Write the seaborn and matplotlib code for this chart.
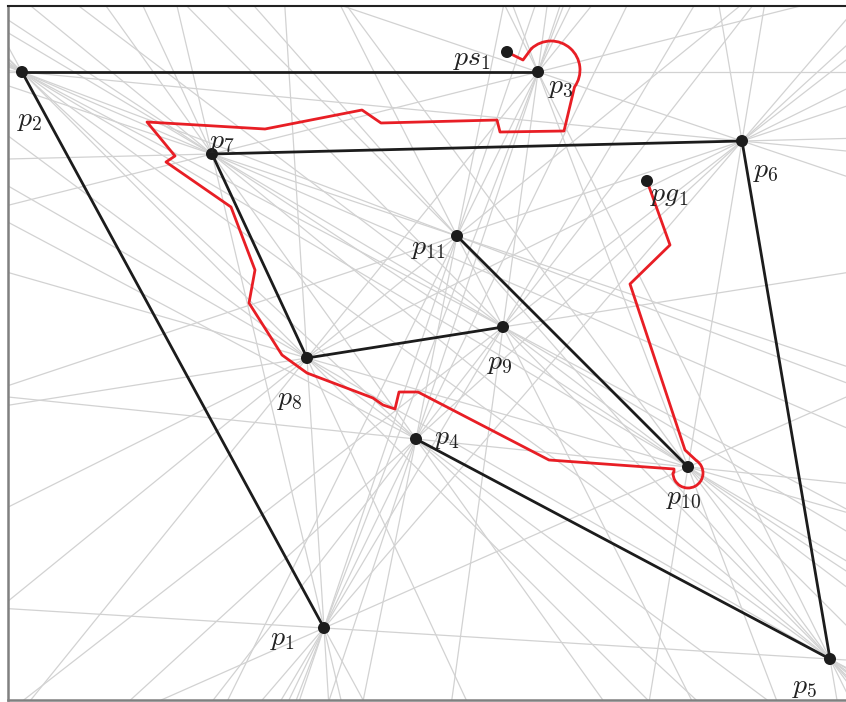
import numpy as np
import pandas as pd
import matplotlib
matplotlib.use("Agg")
import matplotlib.pyplot as plt
from matplotlib.patches import Arc
import seaborn as sns
from itertools import combinations

sns.set_theme(style="white")
plt.rcParams["mathtext.fontset"] = "cm"

# Obstacle vertices
names = ["p1", "p2", "p3", "p4", "p5", "p6", "p7", "p8", "p9", "p10", "p11"]
px = [316, 14, 530, 408, 822, 734, 204, 299, 495, 680, 449]
py = [72, 628, 628, 261, 41, 559, 546, 342, 373, 233, 464]

# Start and goal
ps1 = (499, 648)
pg1 = (639, 519)

# Obstacle segments (pairs of vertex names)
segments = [("p1", "p2"), ("p2", "p3"), ("p7", "p6"), ("p7", "p8"),
            ("p8", "p9"), ("p11", "p10"), ("p4", "p5"), ("p5", "p6")]

# Label anchors
label_x = [275, 22, 553, 439, 797, 758, 214, 282, 492, 676, 420]
label_y = [62, 581, 614, 263, 14, 530, 559, 302, 338, 203, 453]
ps1_label = (464, 642)
pg1_label = (661, 506)

# Planned path: straight pieces joined by two circular arcs
path1_x = [499, 515, 523.4]
path1_y = [648, 640, 651.4]
arc1_center = (543, 630)
arc1_radius = 29
arc1_theta = (-35.8, 132.6)
path2_x = [566.5, 556, 492, 489, 373, 354, 257, 139, 167, 158, 223, 247, 241,
           274, 299, 365, 375, 387, 391, 410, 541, 666, 666, 665]
path2_y = [613, 569, 568, 580, 577, 590, 571, 578, 544, 538, 493, 430, 397,
           345, 327, 302, 295, 291, 308, 308, 240, 231, 228, 227]
arc2_center = (680, 227)
arc2_radius = 15
arc2_theta = (180, 56)
path3_x = [688.4, 677, 622, 662, 639]
path3_y = [239.4, 250, 416, 455, 519]

RED = "#e81e25"
INK = "#1c1c1c"

fig = plt.figure(figsize=(8.46, 7.02), dpi=100)
ax = fig.add_axes([8 / 846, 2 / 702, 842 / 846, 694 / 702])
ax.set_xlim(0, 842)
ax.set_ylim(0, 694)

# Supporting lines through every pair of vertices
for i, j in combinations(range(len(names)), 2):
    ax.axline((px[i], py[i]), (px[j], py[j]), color="#d2d2d2", lw=0.9, zorder=1)

# Obstacle segments
pos = dict(zip(names, zip(px, py)))
rows = []
for k, (a, b) in enumerate(segments):
    rows.append({"x": pos[a][0], "y": pos[a][1], "seg": k})
    rows.append({"x": pos[b][0], "y": pos[b][1], "seg": k})
seg_df = pd.DataFrame(rows)
sns.lineplot(data=seg_df, x="x", y="y", units="seg", estimator=None, sort=False,
             color=INK, lw=2.0, ax=ax, zorder=3, legend=False)

# Path
for xs, ys in [(path1_x, path1_y), (path2_x, path2_y), (path3_x, path3_y)]:
    sns.lineplot(x=xs, y=ys, sort=False, estimator=None, color=RED, lw=2.0,
                 ax=ax, zorder=4)
for c, r, (t1, t2) in [(arc1_center, arc1_radius, arc1_theta),
                       (arc2_center, arc2_radius, arc2_theta)]:
    ax.add_patch(Arc(c, 2 * r, 2 * r, theta1=t1, theta2=t2, color=RED, lw=2.0,
                     zorder=4))

# Vertices, start and goal
sns.scatterplot(x=px + [ps1[0], pg1[0]], y=py + [ps1[1], pg1[1]], color=INK,
                s=75, edgecolor="none", ax=ax, zorder=5)

for n, lx, ly in zip(names, label_x, label_y):
    ax.text(lx, ly, rf"$p_{{{n[1:]}}}$", fontsize=20, color="#222222",
            ha="center", va="center", zorder=6)
ax.text(*ps1_label, r"$ps_1$", fontsize=20, color="#222222", ha="center",
        va="center", zorder=6)
ax.text(*pg1_label, r"$pg_1$", fontsize=20, color="#222222", ha="center",
        va="center", zorder=6)

ax.set_xticks([])
ax.set_yticks([])
ax.set_xlabel("")
ax.set_ylabel("")
for side in ["left", "bottom"]:
    ax.spines[side].set_color("#808080")
    ax.spines[side].set_linewidth(1.8)
ax.spines["top"].set_color("#222222")
ax.spines["top"].set_linewidth(1.5)
ax.spines["right"].set_visible(False)

fig.savefig("out.png", dpi=100)
